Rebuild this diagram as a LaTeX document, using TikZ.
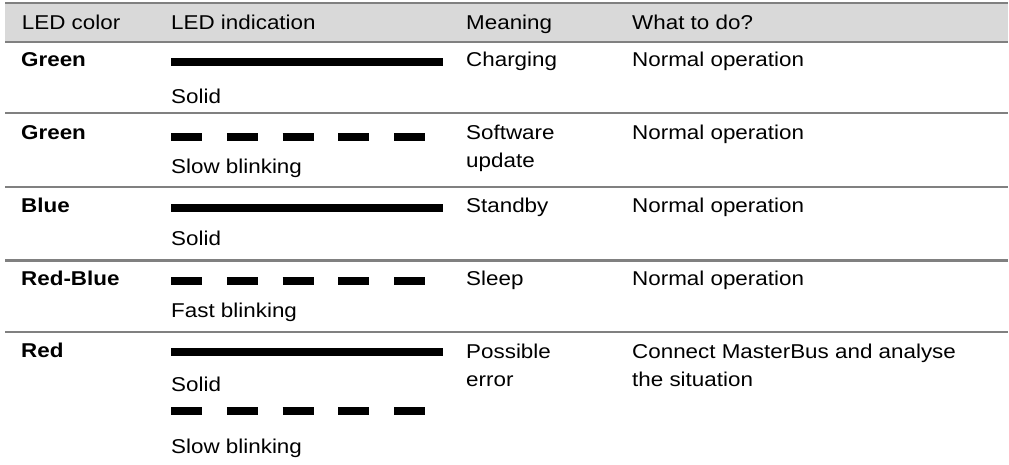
\documentclass[tikz,border=0pt]{standalone}
\usepackage{fontspec}
\setmainfont{Liberation Sans}[FakeStretch=1.12]
\definecolor{rulegray}{RGB}{128,128,128}
\definecolor{headgray}{RGB}{217,217,217}
\tikzset{
  cell/.style={anchor=base west, inner sep=0pt, align=left,
    font=\fontsize{20}{28.5}\selectfont},
  colcell/.style={cell, font=\fontsize{20}{28.5}\selectfont\bfseries},
  rowrule/.style={draw=rulegray, line width=2.3pt},
  solidbar/.style={line width=8pt},
  blinkbar/.style={line width=8pt, dash pattern=on 31pt off 24.8pt}
}

\begin{document}
\begin{tikzpicture}[x=1pt, y=-1pt]
  \useasboundingbox (0,0) rectangle (1009,464);

  % header
  \fill[headgray] (5,2.8) rectangle (1008,42);
  \node[cell] (hcol) at (21.7,29.3) {LED color};
  \node[cell] (hind) at (171,29.3) {LED indication};
  \node[cell] (hmea) at (466,29.3) {Meaning};
  \node[cell] (hwhat) at (632,29.3) {What to do?};

  % rules
  \draw[rowrule] (5,2.8) -- (1008,2.8);
  \draw[rowrule] (5,42) -- (1008,42);
  \draw[rowrule] (5,112.8) -- (1008,112.8);
  \draw[rowrule] (5,186.8) -- (1008,186.8);
  \draw[rowrule] (5,260.6) -- (1008,260.6);
  \draw[rowrule] (5,331.7) -- (1008,331.7);

  % Green, solid
  \node[colcell] (c1) at (21,66.7) {Green};
  \coordinate (s1a) at (171,62);
  \coordinate (s1b) at (443,62);
  \draw[solidbar] (s1a) -- (s1b);
  \node[cell] (i1) at (171,103.5) {Solid};
  \node[cell] (m1) at (466,66.7) {Charging};
  \node[cell] (w1) at (632,66.7) {Normal operation};

  % Green, slow blinking
  \node[colcell] (c2) at (21,139.2) {Green};
  \coordinate (s2a) at (171,136.7);
  \coordinate (s2b) at (426,136.7);
  \draw[blinkbar] (s2a) -- (s2b);
  \node[cell] (i2) at (171,173.3) {Slow blinking};
  % two-line cells sit on their last baseline
  \node[cell] (m2) at (466,167.8) {Software\\update};
  \node[cell] (w2) at (632,139.3) {Normal operation};

  % Blue, solid
  \node[colcell] (c3) at (21,212.3) {Blue};
  \coordinate (s3a) at (171,207.5);
  \coordinate (s3b) at (443,207.5);
  \draw[solidbar] (s3a) -- (s3b);
  \node[cell] (i3) at (171,245.3) {Solid};
  \node[cell] (m3) at (466,212.3) {Standby};
  \node[cell] (w3) at (632,212.3) {Normal operation};

  % Red-Blue, fast blinking
  \node[colcell] (c4) at (21,285.7) {Red-Blue};
  \coordinate (s4a) at (171,281);
  \coordinate (s4b) at (426,281);
  \draw[blinkbar] (s4a) -- (s4b);
  \node[cell] (i4) at (171,317.3) {Fast blinking};
  \node[cell] (m4) at (466,285.7) {Sleep};
  \node[cell] (w4) at (632,285.7) {Normal operation};

  % Red, solid or slow blinking
  \node[colcell] (c5) at (21,357.8) {Red};
  \coordinate (s5a) at (171,352);
  \coordinate (s5b) at (443,352);
  \draw[solidbar] (s5a) -- (s5b);
  \node[cell] (i5) at (171,391) {Solid};
  \coordinate (s6a) at (171,411);
  \coordinate (s6b) at (426,411);
  \draw[blinkbar] (s6a) -- (s6b);
  \node[cell] (i6) at (171,453.3) {Slow blinking};
  \node[cell] (m5) at (466,386.5) {Possible\\error};
  \node[cell] (w5) at (632,386.5) {Connect MasterBus and analyse\\the situation};
\end{tikzpicture}
\end{document}
